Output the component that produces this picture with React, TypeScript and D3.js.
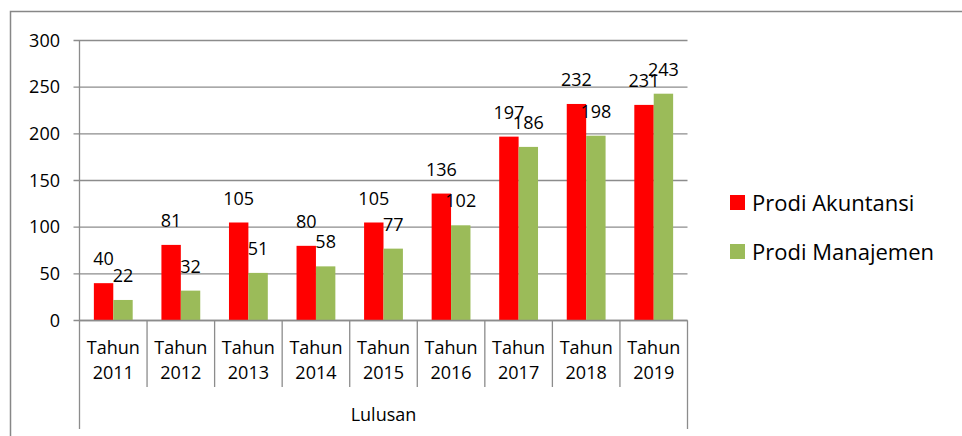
import React from "react";
import * as d3 from "d3";

const categories = ["2011", "2012", "2013", "2014", "2015", "2016", "2017", "2018", "2019"];
const seriesNames = ["Prodi Akuntansi", "Prodi Manajemen"];
const akuntansi = [40, 81, 105, 80, 105, 136, 197, 232, 231];
const manajemen = [22, 32, 51, 58, 77, 102, 186, 198, 243];
const yTicks = [0, 50, 100, 150, 200, 250, 300];
const colors = ["#ff0000", "#9bbb59"];
const axisTitle = "Lulusan";
const catPrefix = "Tahun";

export default function App() {
  const W = 962, H = 436;
  const left = 79.5, right = 687.5, top = 40.5, bottom = 320.5;
  const font = "'Open Sans', sans-serif";
  const fs = 18;
  const y = d3.scaleLinear().domain([0, 300]).range([bottom, top]);
  const x0 = d3.scaleBand<string>().domain(categories).range([left, right]).padding(0);
  const x1 = d3.scaleBand<string>().domain(seriesNames).range([0, x0.bandwidth()]).paddingInner(0).paddingOuter(0.74);
  const seriesData = [akuntansi, manajemen];
  const grid = "#8c8c8c";

  return (
    <svg width={W} height={H} style={{ position: "absolute", left: 0, top: 0, background: "#fff" }} fontFamily={font}>
      <rect x={10.5} y={11.5} width={1000} height={600} fill="none" stroke="#878787" strokeWidth={1.5} />
      {yTicks.map((t) => (
        <g key={t}>
          <line x1={left - 6} x2={right} y1={y(t)} y2={y(t)} stroke={grid} strokeWidth={1.3} />
          <text x={60} y={y(t)} dy="0.35em" textAnchor="end" fontSize={fs} fill="#000">{t}</text>
        </g>
      ))}
      {seriesData.map((vals, si) =>
        vals.map((v, i) => {
          const bx = (x0(categories[i]) as number) + (x1(seriesNames[si]) as number);
          return (
            <g key={`${si}-${i}`}>
              <rect x={bx} y={y(v)} width={x1.bandwidth()} height={bottom - y(v)} fill={colors[si]} />
              <text x={bx + x1.bandwidth() / 2} y={y(v) - 18} textAnchor="middle" fontSize={fs} fill="#000">{v}</text>
            </g>
          );
        })
      )}
      <line x1={left} x2={left} y1={top} y2={429} stroke={grid} strokeWidth={1.3} />
      <line x1={right} x2={right} y1={bottom} y2={429} stroke={grid} strokeWidth={1.3} />
      <line x1={left} x2={right} y1={bottom} y2={bottom} stroke={grid} strokeWidth={1.3} />
      {categories.map((c, i) => {
        const bx = x0(c) as number;
        return (
          <g key={c}>
            {i > 0 && <line x1={bx} x2={bx} y1={bottom} y2={387} stroke={grid} strokeWidth={1.3} />}
            <text x={bx + x0.bandwidth() / 2} y={348} dy="0.35em" textAnchor="middle" fontSize={fs} fill="#000">{catPrefix}</text>
            <text x={bx + x0.bandwidth() / 2} y={373} dy="0.35em" textAnchor="middle" fontSize={fs} fill="#000">{c}</text>
          </g>
        );
      })}
      <text x={(left + right) / 2} y={415} dy="0.35em" textAnchor="middle" fontSize={fs} fill="#000">{axisTitle}</text>
      {seriesNames.map((s, i) => (
        <g key={s}>
          <rect x={730} y={195 + i * 49} width={15} height={15} fill={colors[i]} />
          <text x={752} y={203 + i * 49} dy="0.35em" fontSize={22} fill="#000">{s}</text>
        </g>
      ))}
    </svg>
  );
}
